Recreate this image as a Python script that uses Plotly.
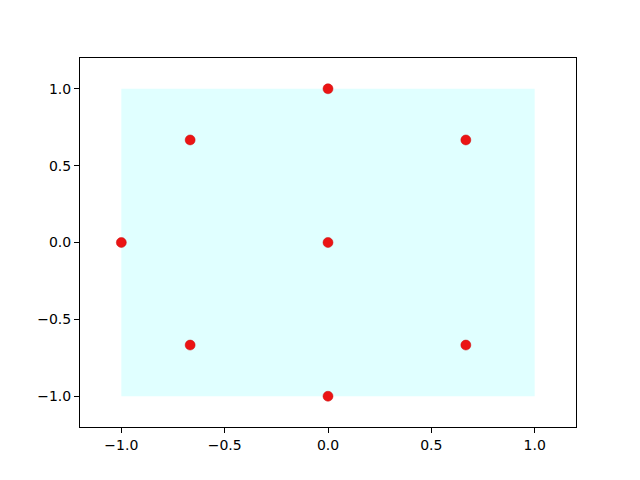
import plotly.graph_objects as go

# square region
rect_x = [-1, 1, 1, -1, -1]
rect_y = [-1, -1, 1, 1, -1]

# sample points
pts_x = [0.0, -0.667, 0.667, -1.0, 0.0, -0.667, 0.667, 0.0]
pts_y = [1.0, 0.667, 0.667, 0.0, 0.0, -0.667, -0.667, -1.0]

tick_vals = [-1.0, -0.5, 0.0, 0.5, 1.0]

fig = go.Figure()
fig.add_trace(go.Scatter(
    x=rect_x, y=rect_y, mode='lines', fill='toself',
    fillcolor='rgb(224,255,255)', line=dict(width=0), hoverinfo='skip',
))
fig.add_trace(go.Scatter(
    x=pts_x, y=pts_y, mode='markers',
    marker=dict(color='rgb(235,20,20)', size=10, line=dict(width=0.5, color='rgb(200,15,15)')),
))

axis_style = dict(
    showgrid=False, zeroline=False, showline=True, mirror=True,
    linecolor='black', linewidth=1, ticks='outside', ticklen=5,
    tickcolor='black', tickformat='.1f', tickvals=tick_vals,
    tickfont=dict(family='DejaVu Sans', size=14, color='black'),
)

# page body has an 8px margin, so shift the plot area back by that much
fig.update_layout(
    width=640, height=480,
    margin=dict(l=72, r=72, t=50, b=61),
    plot_bgcolor='white', paper_bgcolor='white',
    showlegend=False,
    xaxis=dict(range=[-1.2, 1.2], **axis_style),
    yaxis=dict(range=[-1.2, 1.2], **axis_style),
)

fig.write_html("out.html")
